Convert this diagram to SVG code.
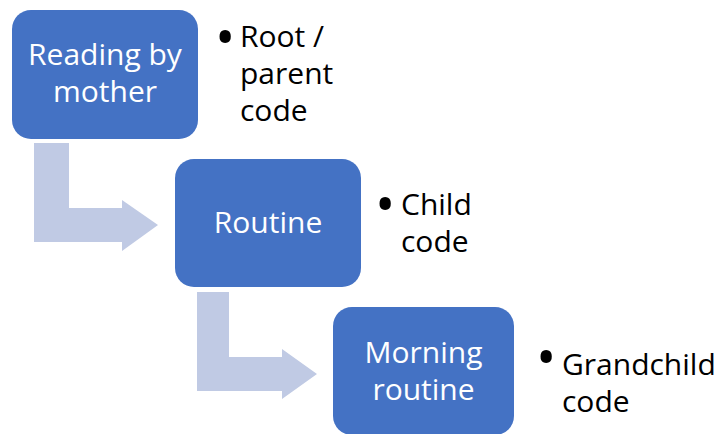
<svg xmlns="http://www.w3.org/2000/svg" width="717" height="434" viewBox="0 0 717 434">
<style>
.box{fill:#4472C4}
.arr{fill:#C0CAE4}
.lbl{font-family:"Open Sans","Liberation Sans",sans-serif;font-size:30px;fill:#FFFFFF;text-anchor:middle}
.side{font-family:"Open Sans","Liberation Sans",sans-serif;font-size:30px;fill:#000000}
.bul{font-family:"Open Sans","Liberation Sans",sans-serif;font-size:54px;fill:#000000}
</style>
<rect width="717" height="434" fill="#FFFFFF"/>
<g id="connectors">
<polygon class="arr" points="34,143 69,143 69,208 122,208 122,200 158,225 122,251 122,242 34,242"/>
<polygon class="arr" points="197,292 229,292 229,357 282,357 282,349 317,374 282,399 282,391 197,391"/>
</g>
<g id="node1">
<rect class="box" x="12" y="10" width="186" height="129" rx="19"/>
<text class="lbl" x="105" y="65">Reading by</text>
<text class="lbl" x="105" y="102">mother</text>
</g>
<g id="note1">
<text class="bul" x="215" y="57">•</text>
<text class="side" x="240" y="47">Root /</text>
<text class="side" x="240" y="84">parent</text>
<text class="side" x="240" y="121">code</text>
</g>
<g id="node2">
<rect class="box" x="175" y="159" width="186" height="128" rx="19"/>
<text class="lbl" x="268" y="233">Routine</text>
</g>
<g id="note2">
<text class="bul" x="375" y="224">•</text>
<text class="side" x="401" y="215">Child</text>
<text class="side" x="401" y="252">code</text>
</g>
<g id="node3">
<rect class="box" x="333" y="307" width="181" height="128" rx="19"/>
<text class="lbl" x="423.5" y="363">Morning</text>
<text class="lbl" x="423.5" y="400">routine</text>
</g>
<g id="note3">
<text class="bul" x="536" y="377">•</text>
<text class="side" x="562" y="375">Grandchild</text>
<text class="side" x="562" y="412">code</text>
</g>
</svg>
